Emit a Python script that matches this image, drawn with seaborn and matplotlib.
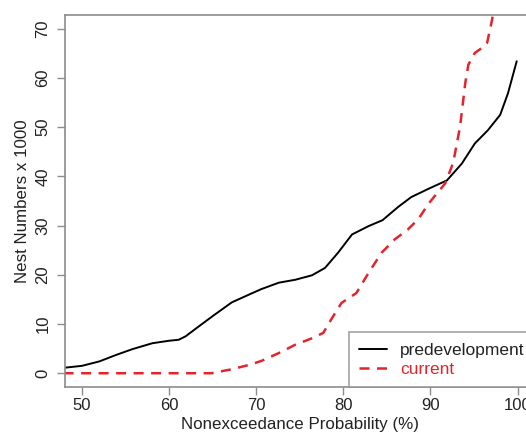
import numpy as np
import pandas as pd
import matplotlib
matplotlib.use("Agg")
import matplotlib.pyplot as plt
import seaborn as sns

# values (nonexceedance %, nests x 1000)
pre_prob = [47.9, 50.0, 52.0, 53.9, 55.8, 58.1, 60.0, 61.1, 61.9, 63.4, 65.0, 67.2,
            69.2, 70.6, 72.6, 74.5, 76.4, 77.9, 79.4, 81.0, 82.9, 84.5, 86.3, 87.8,
            89.8, 91.9, 93.6, 95.1, 96.6, 98.0, 98.9, 99.9]
pre_nests = [1.1, 1.5, 2.4, 3.7, 4.9, 6.1, 6.6, 6.8, 7.5, 9.5, 11.6, 14.4,
             16.0, 17.1, 18.4, 19.0, 19.9, 21.4, 24.5, 28.2, 29.9, 31.1, 33.8, 35.8,
             37.5, 39.2, 42.6, 46.7, 49.4, 52.5, 56.9, 63.4]

cur_prob = [47.9, 50.0, 55.0, 60.0, 64.9, 65.7, 67.2, 69.2, 70.6, 72.6, 74.5, 76.4,
            77.7, 78.7, 79.8, 81.5, 82.9, 84.4, 85.9, 87.4, 88.6, 89.8, 91.7, 92.6,
            93.4, 94.0, 94.35, 95.1, 95.9, 96.5, 97.0, 97.3]
cur_nests = [0.0, 0.0, 0.0, 0.0, 0.0, 0.3, 0.8, 1.7, 2.5, 4.1, 5.8, 7.1,
             8.2, 11.2, 14.3, 16.3, 20.4, 24.5, 27.2, 29.2, 31.3, 34.5, 38.6, 42.7,
             50.1, 59.0, 62.7, 65.1, 66.1, 67.1, 71.2, 74.0]

x_ticks = [50, 60, 70, 80, 90, 100]
y_ticks = [0, 10, 20, 30, 40, 50, 60, 70]

sns.set_theme(style="ticks")
plt.rcParams['font.family'] = ['Liberation Sans', 'DejaVu Sans']

frame_col = "#8c8c8c"
text_col = "#222222"
red = "#e3242b"

fig = plt.figure(figsize=(5.26, 4.38), dpi=100)
# right edge of the plot box lies past the image edge, as in the reference crop
ax = fig.add_axes([64.5 / 526, 51 / 438, (535 - 64.5) / 526, 372 / 438])

sns.lineplot(x=pre_prob, y=pre_nests, ax=ax, color="black", lw=1.4,
             label="predevelopment", sort=False)
sns.lineplot(x=cur_prob, y=cur_nests, ax=ax, color=red, lw=1.8,
             label="current", sort=False, dashes=False)
ax.lines[1].set_dashes([4, 3])

ax.set_xlim(48, 102)
ax.set_ylim(-2.8, 72.8)
ax.set_xticks(x_ticks)
ax.set_yticks(y_ticks)
ax.set_yticklabels([str(v) for v in y_ticks], rotation=90, va="center")
ax.tick_params(axis="both", colors=frame_col, labelcolor=text_col, labelsize=12,
               length=6, width=1)
ax.tick_params(axis="y", pad=4)
ax.tick_params(axis="x", pad=2)
for s in ax.spines.values():
    s.set_visible(True)
    s.set_color(frame_col)
    s.set_linewidth(1.2)

ax.set_xlabel("Nonexceedance Probability (%)", fontsize=12.2, color=text_col, labelpad=3)
ax.set_ylabel("Nest Numbers x 1000", fontsize=12.2, color=text_col, labelpad=4)

leg = ax.legend(loc="lower right", frameon=True, fancybox=False, borderaxespad=0,
                fontsize=12.5, handlelength=1.6, handletextpad=0.75,
                borderpad=0.6, labelspacing=0.2)
leg.get_frame().set_edgecolor(frame_col)
leg.get_frame().set_linewidth(1.2)
leg.get_texts()[0].set_color(text_col)
leg.get_texts()[1].set_color(red)
leg.get_lines()[1].set_dashes([4, 3])

fig.savefig("out.png", dpi=100)
